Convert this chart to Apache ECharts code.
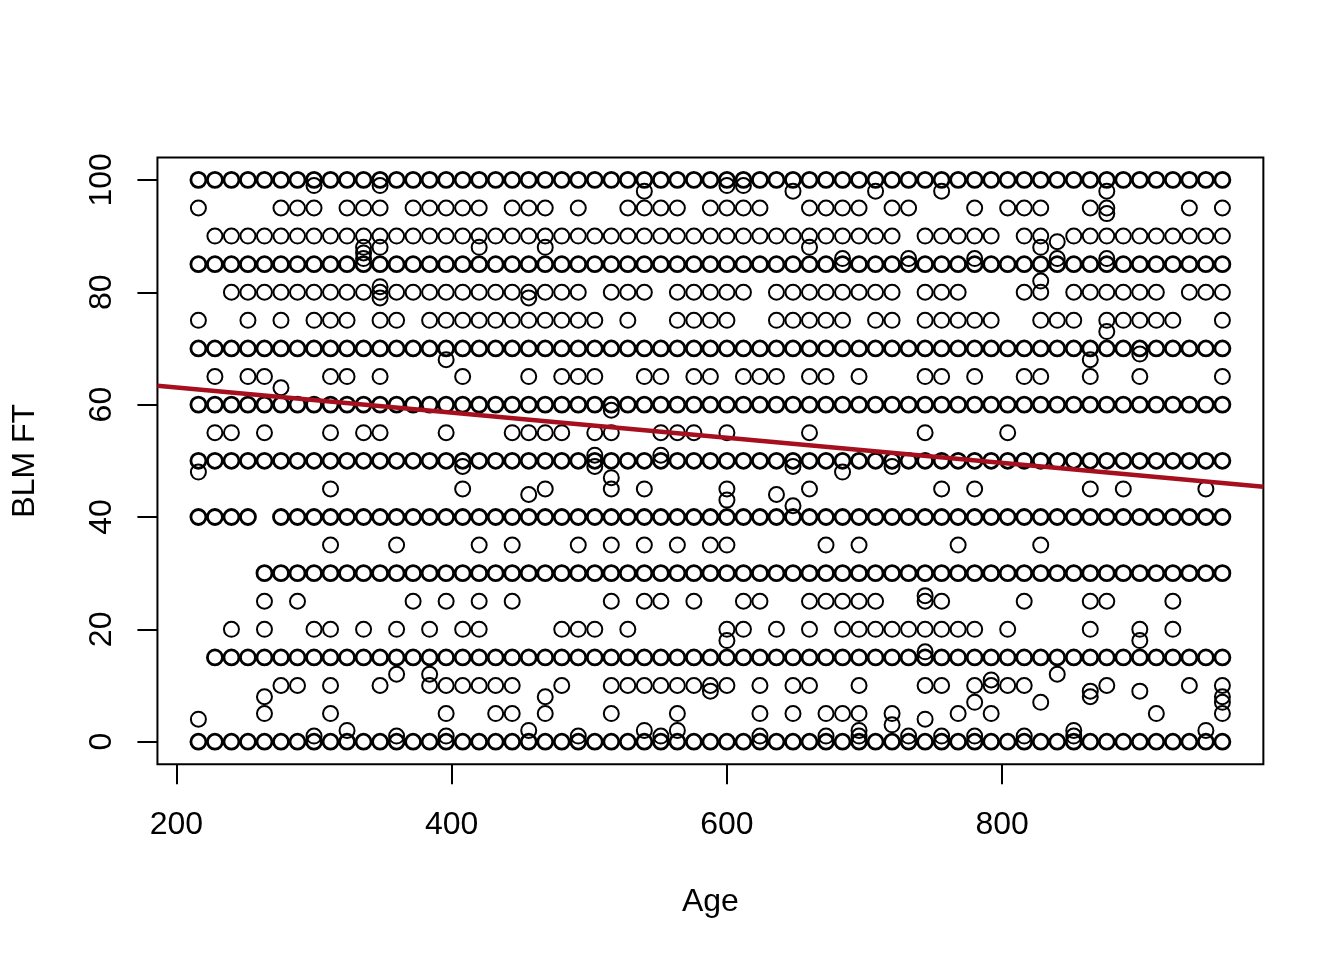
<!DOCTYPE html>
<html><head><meta charset="utf-8">
<style>html,body{margin:0;padding:0;background:#fff}#c{width:1344px;height:960px}</style>
<script src="https://cdn.jsdelivr.net/npm/echarts@6/dist/echarts.min.js"></script>
</head><body><div id="c"></div>
<script>
const allAges=[216,228,240,252,264,276,288,300,312,324,336,348,360,372,384,396,408,420,432,444,456,468,480,492,504,516,528,540,552,564,576,588,600,612,624,636,648,660,672,684,696,708,720,732,744,756,768,780,792,804,816,828,840,852,864,876,888,900,912,924,936,948,960];
const a90=[228,240,252,264,276,288,300,312,324,336,348,360,372,384,396,408,420,432,444,456,468,480,492,504,516,528,540,552,564,576,588,600,612,624,636,648,660,672,684,696,708,720,744,756,768,780,792,816,828,852,864,876,888,900,912,924,936,948,960];
const a95=[216,276,288,300,324,336,348,372,384,396,408,420,444,456,468,492,528,540,552,564,588,600,612,624,660,672,684,696,720,732,780,804,816,828,864,876,936,960];
const a80=[240,252,264,276,288,300,312,324,336,348,360,372,384,396,408,420,432,444,456,468,480,492,516,528,540,564,576,588,600,612,636,648,660,672,684,696,708,720,744,756,768,816,828,852,864,876,888,900,912,936,948,960];
const a75=[216,252,276,300,312,324,348,360,384,396,408,420,432,444,456,468,480,492,504,528,564,576,588,600,636,648,660,672,684,708,720,744,756,768,780,792,828,840,852,876,888,900,912,924,960];
const a65=[228,252,264,312,324,348,408,456,480,492,504,540,552,576,588,612,624,636,660,672,696,744,756,780,816,828,864,900,960];
const a55=[228,240,264,312,336,348,396,444,456,468,480,504,516,552,564,576,600,660,744,804];
const a45=[312,408,468,516,540,600,660,756,780,864,888,948];
const a40=[216,228,240,252,276,288,300,312,324,336,348,360,372,384,396,408,420,432,444,456,468,480,492,504,516,528,540,552,564,576,588,600,612,624,636,648,660,672,684,696,708,720,732,744,756,768,780,792,804,816,828,840,852,864,876,888,900,912,924,936,948,960];
const a35=[312,360,420,444,492,516,540,564,588,600,672,696,768,828];
const a30=[264,276,288,300,312,324,336,348,360,372,384,396,408,420,432,444,456,468,480,492,504,516,528,540,552,564,576,588,600,612,624,636,648,660,672,684,696,708,720,732,744,756,768,780,792,804,816,828,840,852,864,876,888,900,912,924,936,948,960];
const a25=[264,288,372,396,420,444,516,540,552,576,612,624,660,672,684,696,708,744,756,816,864,876,924];
const a20=[240,264,300,312,336,360,384,408,420,480,492,504,528,600,612,636,660,684,696,708,720,732,744,756,768,780,804,864,900,924];
const a15=[228,240,252,264,276,288,300,312,324,336,348,360,372,384,396,408,420,432,444,456,468,480,492,504,516,528,540,552,564,576,588,600,612,624,636,648,660,672,684,696,708,720,732,744,756,768,780,792,804,816,828,840,852,864,876,888,900,912,924,936,948,960];
const a10=[276,288,312,348,384,396,408,420,432,444,480,516,528,540,552,564,576,588,600,624,648,660,696,744,756,780,792,804,816,876,936,960];
const a5=[264,312,396,432,444,468,516,564,624,648,672,684,696,720,768,792,912,960];
const oddAges=[300,348,600,612,540,648,708,756,876,876,348,336,336,336,420,468,660,828,840,684,732,780,840,876,828,348,348,456,876,396,864,900,276,516,216,408,504,504,552,648,684,720,456,516,600,636,648,744,600,900,744,360,384,840,588,864,900,264,468,864,960,780,828,960,792,216,744,720,324,456,540,564,696,852,948,300,360,396,492,552,624,672,696,732,756,780,816,852];
const oddVals=[99,99,99,99,98,98,98,98,98,94,88,88,87,86,88,88,88,88,89,86,86,86,86,86,82,81,79,79,73,68,68,69,63,59,48,49,51,49,51,49,48,49,44,47,43,44,42,26,18,18,16,12,12,12,9,9,9,8,8,8,8,7,7,7,11,4,4,3,2,2,2,2,2,2,2,1,1,1,1,1,1,1,1,1,1,1,1,1];
const fitAges=[186.24,989.76];
const fitVals=[63.37,45.39];
const xTicks=[200,400,600,800];
const yTicks=[0,20,40,60,80,100];

const pairs=(ages,v)=>ages.map(a=>[a,v]);
const frequent=[].concat(pairs(allAges,100),pairs(allAges,85),pairs(allAges,70),pairs(allAges,60),pairs(allAges,50),pairs(a40,40),pairs(a30,30),pairs(a15,15),pairs(allAges,0));
const sparse=[].concat(pairs(a95,95),pairs(a90,90),pairs(a80,80),pairs(a75,75),pairs(a65,65),pairs(a55,55),pairs(a45,45),pairs(a35,35),pairs(a25,25),pairs(a20,20),pairs(a10,10),pairs(a5,5),oddAges.map((a,i)=>[a,oddVals[i]]));
const font='"Liberation Sans",Arial,sans-serif';
const chart=echarts.init(document.getElementById('c'),null,{renderer:'canvas'});
chart.setOption({
  animation:false,backgroundColor:'#fff',
  grid:{left:157.44,top:157.44,width:1105.92,height:606.72,show:true,borderColor:'#000',borderWidth:2,backgroundColor:'transparent'},
  xAxis:{type:'value',min:186.24,max:989.76,splitLine:{show:false},
    axisLine:{show:false,onZero:false},
    axisTick:{show:true,length:20,lineStyle:{color:'#000',width:2},customValues:xTicks},
    axisLabel:{color:'#000',fontFamily:font,fontSize:32,margin:45,customValues:xTicks},
    name:'Age',nameLocation:'middle',nameGap:122,nameTextStyle:{color:'#000',fontFamily:font,fontSize:32}},
  yAxis:{type:'value',min:-4,max:104,splitLine:{show:false},
    axisLine:{show:false,onZero:false},
    axisTick:{show:true,length:20,lineStyle:{color:'#000',width:2},customValues:yTicks},
    axisLabel:{color:'#000',fontFamily:font,fontSize:32,margin:39,rotate:90,customValues:yTicks},
    name:'BLM FT',nameLocation:'middle',nameGap:116,nameRotate:90,nameTextStyle:{color:'#000',fontFamily:font,fontSize:32}},
  series:[
    {type:'scatter',data:frequent,symbol:'circle',symbolSize:15,silent:true,itemStyle:{color:'rgba(0,0,0,0)',borderColor:'#000',borderWidth:2.8,opacity:1},z:2},
    {type:'scatter',data:sparse,symbol:'circle',symbolSize:15,silent:true,itemStyle:{color:'rgba(0,0,0,0)',borderColor:'#000',borderWidth:2,opacity:1},z:2},
    {type:'line',data:fitAges.map((a,i)=>[a,fitVals[i]]),showSymbol:false,symbol:'none',silent:true,clip:true,lineStyle:{color:'#A50F1E',width:4.5},z:5}
  ]
});
</script></body></html>
